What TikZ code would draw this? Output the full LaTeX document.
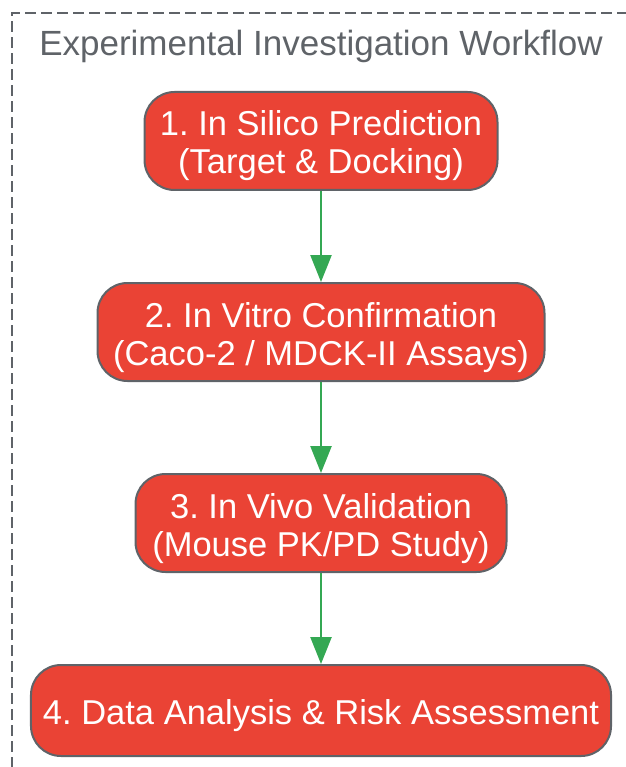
\documentclass[tikz,border=0pt]{standalone}
\usepackage{fontspec}
\setmainfont{Liberation Sans}
\usepackage{xcolor}
\usepackage{tikz}
\usetikzlibrary{arrows.meta,positioning}

\definecolor{stepred}{HTML}{EA4335}
\definecolor{edgegray}{HTML}{5F6368}
\definecolor{flowgreen}{HTML}{34A853}

\frenchspacing

\begin{document}
\begin{tikzpicture}[x=1pt, y=1pt, node distance=91pt,
    box/.style={rectangle, rounded corners=30pt, draw=edgegray, line width=2pt, fill=stepred,
        text=white, align=center, minimum height=98pt, inner xsep=12pt,
        text height=70pt, text depth=4pt,
        font=\fontsize{34.5}{38}\selectfont},
    arrow/.style={-{Triangle[length=27pt, width=21pt]}, line width=2.5pt, draw=flowgreen}]

    \useasboundingbox (0,0) rectangle (625,-767);

    % Frame
    \draw[edgegray, line width=2pt, dash pattern=on 11pt off 5pt] (12,-800) |- (680,-13);
    \node[text=edgegray, font=\fontsize{35}{40}\selectfont] (title) at (321,-46) {Experimental Investigation Workflow};

    % Steps
    \node[box, minimum width=353pt] (silico) at (321,-141) {1. In Silico Prediction\\(Target \& Docking)};
    \node[box, minimum width=447pt, below=of silico] (vitro) {2. In Vitro Confirmation\\(Caco-2 / MDCK-II Assays)};
    \node[box, minimum width=371pt, below=of vitro] (vivo) {3. In Vivo Validation\\(Mouse PK/PD Study)};
    \node[box, minimum width=580pt, minimum height=91pt, text height=30pt, text depth=3pt,
        below=of vivo] (risk) {4. Data Analysis \& Risk Assessment};

    % Arrows
    \draw[arrow] (silico) -- (vitro);
    \draw[arrow] (vitro) -- (vivo);
    \draw[arrow] (vivo) -- (risk);

\end{tikzpicture}
\end{document}
